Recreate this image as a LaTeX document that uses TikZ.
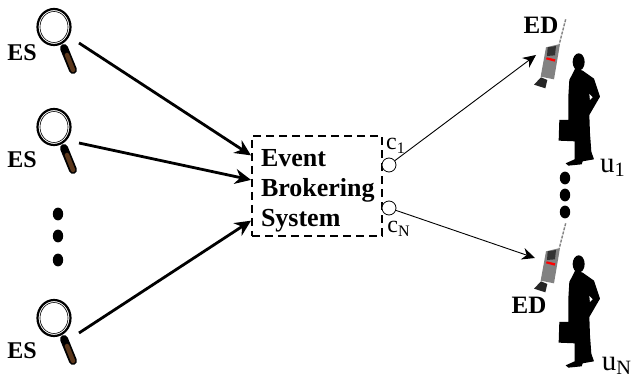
\documentclass[tikz,border=0pt]{standalone}
\usepackage{fontspec}
\setmainfont{Liberation Serif}
\usepackage{xcolor}
\usetikzlibrary{arrows.meta, positioning, calc, shapes.geometric}
\definecolor{handlebrown}{RGB}{92,56,28}
\definecolor{phonegray}{RGB}{130,130,130}
\tikzstyle{source} = [font=\fontsize{12}{12}\bfseries, inner sep=0pt]
\tikzstyle{device} = [font=\fontsize{12.5}{12}\bfseries, inner sep=0pt]
\tikzstyle{broker} = [rectangle, draw=black, line width=1pt, dash pattern=on 4pt off 2.5pt, minimum width=65pt, minimum height=50pt, inner sep=0pt]
\tikzstyle{brokertext} = [text width=57pt, inner sep=0pt, align=left, font=\fontsize{13}{15}\bfseries]
\tikzstyle{port} = [circle, draw=black, fill=white, line width=0.4pt, minimum size=7pt, inner sep=0pt]
\tikzstyle{sublabel} = [font=\fontsize{12}{12}\selectfont, inner sep=0pt]
\tikzstyle{userlabel} = [font=\fontsize{14.5}{14}\selectfont, inner sep=0pt]
\tikzstyle{dot} = [ellipse, fill=black, minimum width=5.2pt, minimum height=6.4pt, inner sep=0pt]
\tikzstyle{arrow} = [line width=1.4pt,-{Stealth[length=8pt,width=7.5pt]}]
\tikzstyle{thinarrow} = [line width=0.45pt,-{Stealth[length=6.5pt,width=6pt]}]
\tikzset{
  pics/lens/.style={code={
    \draw [line width=4pt, line cap=round, draw=black] (64,48) -- (73,70);
    \draw [line width=2.2pt, line cap=round, draw=handlebrown] (67,55) -- (73,70);
    \draw [line width=1.1pt, fill=white] (54,27) ellipse (16.5 and 18);
    \draw [line width=0.3pt] (54,27) ellipse (14 and 15.5);
  }},
  pics/phone/.style={code={
    \begin{scope}[scale=0.3333]
      \draw [draw=phonegray, line width=0.7pt, dash pattern=on 1.5pt off 0.6pt] (197,58) -- (178,132);
      \fill [phonegray] (138,142) -- (180,132) -- (162,238) -- (122,230) -- cycle;
      \fill [black!80] (143,142) -- (168,138) -- (165,166) -- (141,168) -- cycle;
      \fill [black!85] (123,232) -- (142,240) -- (136,265) -- (102,254) -- cycle;
      \fill [red] (140,172) -- (166,178) -- (164,185) -- (138,178) -- cycle;
    \end{scope}
  }},
  pics/person/.style={code={
    \begin{scope}[scale=0.3333]
      \fill [black] (236,186) ellipse (18 and 26);
      \fill [black] (226,205) -- (208,240) -- (205,290) -- (205,360) -- (178,360) -- (176,422) -- (224,424)
        -- (224,478) -- (197,490) -- (205,497) -- (245,493) -- (248,484) -- (282,478) -- (274,455)
        -- (270,400) -- (268,345) -- (300,290) -- (282,236) -- (248,212) -- cycle;
      \fill [white] (268,282) -- (278,292) -- (270,300) -- cycle;
    \end{scope}
  }}
}
\begin{document}
\begin{tikzpicture}[x=0.5pt,y=-0.5pt]
    \useasboundingbox (0,0) rectangle (632,379);

    % sources on the left
    \pic at (0,0) {lens};
    \pic at (0,100) {lens};
    \pic at (0,291) {lens};
    \node (es1) [source] at (22,53) {ES};
    \node (es2) [source] at (22,160) {ES};
    \node (es3) [source] at (22,351) {ES};
    \node (dota) [dot] at (58,214) {};
    \node (dotb) [dot] at (58,236) {};
    \node (dotc) [dot] at (58,260) {};

    % broker with its two ports
    \node (ebs) [broker] at (317,186) {};
    \node (ebstext) [brokertext] at (318,191) {Event\\Brokering\\System};
    \node (c1) [port] at (389,165) {};
    \node (cN) [port] at (389,208) {};
    \node (c1label) [sublabel] at (396,146) {c\textsubscript{1}};
    \node (cNlabel) [sublabel] at (399,229) {c\textsubscript{N}};

    % users and their devices
    \pic at (500,0) {phone};
    \pic at (500,204) {phone};
    \pic at (500,0) {person};
    \pic at (500,202) {person};
    \node (ed1) [device] at (541,25) {ED};
    \node (ed2) [device] at (529,305) {ED};
    \node (u1) [userlabel] at (613,168) {u\textsubscript{1}};
    \node (uN) [userlabel] at (617,366) {u\textsubscript{N}};
    \node (dotd) [dot] at (565,178) {};
    \node (dote) [dot] at (565,195) {};
    \node (dotf) [dot] at (565,212) {};

    % free ends of the connectors
    \coordinate (lens1) at (79,43);
    \coordinate (lens2) at (79,143);
    \coordinate (lens3) at (79,333);
    \coordinate (in1) at ($(ebs.north west)!0.2!(ebs.south west)$);
    \coordinate (in2) at ($(ebs.north west)!0.44!(ebs.south west)$);
    \coordinate (in3) at ($(ebs.north west)!0.84!(ebs.south west)$);
    \coordinate (phone1) at (536,55);
    \coordinate (phone2) at (535,258);

    \draw [arrow] (lens1) -- (in1);
    \draw [arrow] (lens2) -- (in2);
    \draw [arrow] (lens3) -- (in3);
    \draw [thinarrow] (c1) -- (phone1);
    \draw [thinarrow] (cN) -- (phone2);
\end{tikzpicture}
\end{document}
